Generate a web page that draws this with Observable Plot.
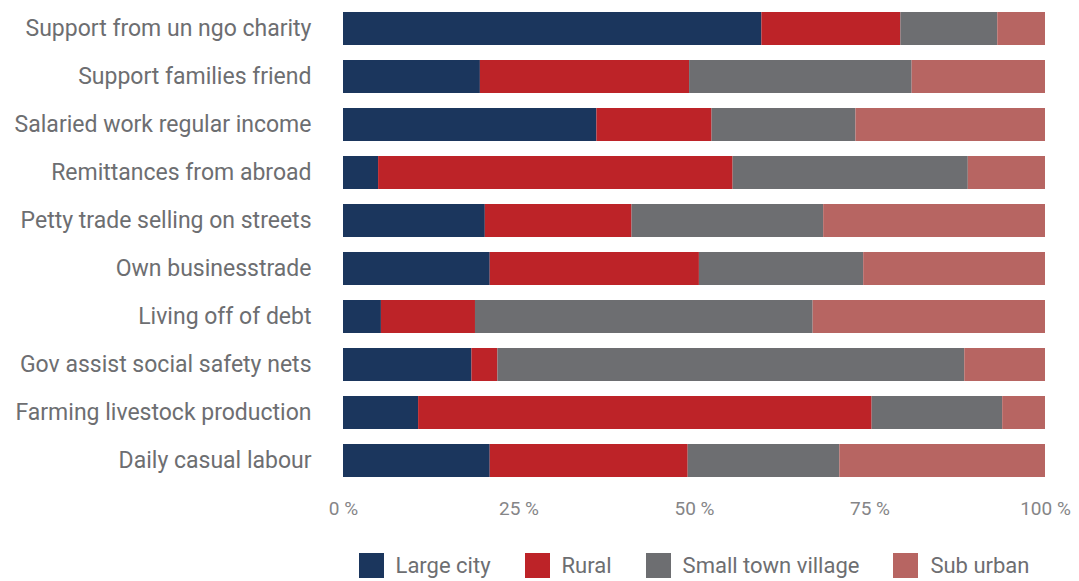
<!DOCTYPE html>
<html>
<head>
<meta charset="utf-8">
<script src="https://cdn.jsdelivr.net/npm/d3@7"></script>
<script src="https://cdn.jsdelivr.net/npm/@observablehq/plot@0.6"></script>
<style>
  body { margin: 0; background: #fff; }
  #chart { width: 1079px; }
  .legend { display: flex; justify-content: center; align-items: center; padding-left: 343px; padding-right: 34px; box-sizing: border-box; width: 1079px; margin-top: 23px;
    font-family: "Roboto", sans-serif; font-size: 22px; color: #6d6e71; white-space: nowrap; }
  .legend .item { display: flex; align-items: center; margin: 0 17px; flex-shrink: 0; }
  .legend .sw { width: 25px; height: 25px; margin-right: 12px; flex-shrink: 0; }
</style>
</head>
<body>
<div id="chart"></div>
<script>
const categories = [
  "Support from un ngo charity",
  "Support families friend",
  "Salaried work regular income",
  "Remittances from abroad",
  "Petty trade selling on streets",
  "Own businesstrade",
  "Living off of debt",
  "Gov assist social safety nets",
  "Farming livestock production",
  "Daily casual labour"
];
const seriesNames = ["Large city", "Rural", "Small town village", "Sub urban"];
const seriesColors = ["#1b365d", "#bd2328", "#6d6e71", "#b76562"];
const largeCity = [59.6, 19.5, 36.1, 5.0, 20.2, 20.9, 5.4, 18.3, 10.7, 20.9];
const rural     = [19.8, 29.8, 16.4, 50.5, 20.9, 29.8, 13.4, 3.7, 64.6, 28.2];
const smallTown = [13.8, 31.7, 20.5, 33.5, 27.3, 23.4, 48.1, 66.5, 18.6, 21.6];
const subUrban  = [6.8, 19.0, 27.0, 11.0, 31.6, 25.9, 33.1, 11.5, 6.1, 29.3];
const xTicks = [0, 25, 50, 75, 100];

const seriesValues = [largeCity, rural, smallTown, subUrban];
const data = [];
categories.forEach((c, i) => {
  seriesNames.forEach((s, j) => data.push({category: c, series: s, value: seriesValues[j][i]}));
});

const plot = Plot.plot({
  width: 1079,
  height: 530,
  marginLeft: 343,
  marginRight: 34,
  marginTop: 5,
  marginBottom: 46,
  style: {fontFamily: "Roboto, sans-serif", background: "#fff"},
  x: {domain: [0, 100], ticks: xTicks, tickFormat: d => d + " %", label: null, tickSize: 0},
  y: {domain: categories, label: null, paddingInner: 0.315, paddingOuter: 0.1, tickSize: 0},
  color: {domain: seriesNames, range: seriesColors},
  marks: [
    Plot.barX(data, Plot.stackX({x: "value", y: "category", fill: "series", order: seriesNames})),
    Plot.axisX({ticks: xTicks, tickFormat: d => d + " %", tickSize: 0, tickPadding: 17, fontSize: 19, fill: "#858587", label: null}),
    Plot.axisY({tickSize: 0, tickPadding: 32, fontSize: 23, fill: "#6d6e71", label: null})
  ]
});
document.getElementById("chart").appendChild(plot);

const legend = document.createElement("div");
legend.className = "legend";
seriesNames.forEach((s, j) => {
  const item = document.createElement("div");
  item.className = "item";
  const sw = document.createElement("div");
  sw.className = "sw";
  sw.style.background = seriesColors[j];
  const t = document.createElement("span");
  t.textContent = s;
  item.appendChild(sw);
  item.appendChild(t);
  legend.appendChild(item);
});
document.getElementById("chart").appendChild(legend);
</script>
</body>
</html>
